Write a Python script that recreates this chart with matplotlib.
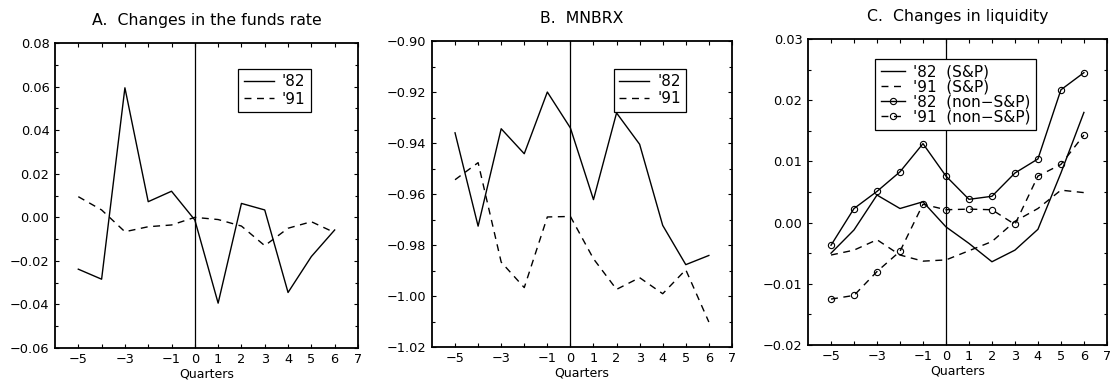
import matplotlib
matplotlib.use("Agg")
import matplotlib.pyplot as plt
from matplotlib.ticker import MultipleLocator, FixedLocator, FixedFormatter

# quarters around the event
quarters = [-5, -4, -3, -2, -1, 0, 1, 2, 3, 4, 5, 6]

# A. changes in the funds rate
funds_82 = [-0.0238, -0.0284, 0.0595, 0.0072, 0.0120, -0.0012, -0.0394, 0.0064, 0.0034, -0.0345, -0.0180, -0.0058]
funds_91 = [0.0095, 0.0034, -0.0066, -0.0043, -0.0035, 0.0000, -0.0010, -0.0040, -0.0130, -0.0050, -0.0020, -0.0070]

# B. MNBRX
mnbrx_82 = [-0.9360, -0.9726, -0.9344, -0.9442, -0.9200, -0.9341, -0.9622, -0.9282, -0.9405, -0.9723, -0.9877, -0.9841]
mnbrx_91 = [-0.9544, -0.9477, -0.9867, -0.9967, -0.9690, -0.9688, -0.9854, -0.9974, -0.9928, -0.9991, -0.9897, -1.0102]

# C. changes in liquidity
sp_82 = [-0.0050, -0.0012, 0.0045, 0.0023, 0.0034, -0.0007, -0.0034, -0.0064, -0.0045, -0.0011, 0.0081, 0.0180]
sp_91 = [-0.0053, -0.0045, -0.0028, -0.0053, -0.0063, -0.0061, -0.0046, -0.0031, 0.0002, 0.0023, 0.0053, 0.0049]
nonsp_82 = [-0.0037, 0.0023, 0.0051, 0.0083, 0.0129, 0.0076, 0.0038, 0.0043, 0.0081, 0.0104, 0.0217, 0.0245]
nonsp_91 = [-0.0125, -0.0119, -0.0080, -0.0047, 0.0030, 0.0021, 0.0022, 0.0021, -0.0003, 0.0076, 0.0095, 0.0143]

xtick_pos = [-5, -4, -3, -2, -1, 0, 1, 2, 3, 4, 5, 6, 7]
xtick_lab = ["−5", "", "−3", "", "−1", "0", "1", "2", "3", "4", "5", "6", "7"]

plt.rcParams["font.family"] = "DejaVu Sans"
plt.rcParams["font.size"] = 9

fig = plt.figure(figsize=(11.11, 3.82), dpi=100)
axA = fig.add_axes([0.0495, 0.089, 0.2727, 0.798])
axB = fig.add_axes([0.3888, 0.0916, 0.2700, 0.801])
axC = fig.add_axes([0.7273, 0.0969, 0.2690, 0.801])

dash = (0, (5, 4))


def style(ax, title, ylim, major, minor, fmt):
	ax.set_xlim(-6, 7)
	ax.set_ylim(*ylim)
	ax.xaxis.set_major_locator(FixedLocator(xtick_pos))
	ax.xaxis.set_major_formatter(FixedFormatter(xtick_lab))
	ax.yaxis.set_major_locator(MultipleLocator(major))
	ax.yaxis.set_minor_locator(MultipleLocator(minor))
	ax.yaxis.set_major_formatter(plt.FuncFormatter(lambda v, p: (fmt % v).replace("-", "−")))
	ax.tick_params(which="both", direction="in", top=True, right=True, length=3, width=0.8, labelsize=9.3)
	ax.tick_params(which="minor", length=2)
	ax.tick_params(axis="y", pad=4)
	ax.axvline(0, color="black", lw=0.9)
	for s in ax.spines.values():
		s.set_linewidth(1.3)
	ax.set_title(title, fontsize=11.3, pad=13)
	ax.set_xlabel("Quarters", fontsize=9, labelpad=1)


def legend(ax, anchor, hl, sp):
	leg = ax.legend(loc="upper left", bbox_to_anchor=anchor, frameon=True, fancybox=False,
					edgecolor="black", framealpha=1, handlelength=hl, handletextpad=0.5,
					borderpad=0.35, labelspacing=sp, fontsize=11)
	leg.get_frame().set_linewidth(0.9)


style(axA, "A.  Changes in the funds rate", (-0.06, 0.08), 0.02, 0.01, "%.2f")
axA.plot(quarters, funds_82, color="black", lw=1.0, label="'82")
axA.plot(quarters, funds_91, color="black", lw=1.0, ls=dash, label="'91")
legend(axA, (0.58, 0.94), 2.0, 0.15)

style(axB, "B.  MNBRX", (-1.02, -0.90), 0.02, 0.01, "%.2f")
axB.plot(quarters, mnbrx_82, color="black", lw=1.0, label="'82")
axB.plot(quarters, mnbrx_91, color="black", lw=1.0, ls=dash, label="'91")
legend(axB, (0.58, 0.935), 2.0, 0.15)

style(axC, "C.  Changes in liquidity", (-0.02, 0.03), 0.01, 0.005, "%.2f")
axC.plot(quarters, sp_82, color="black", lw=1.0, label="'82  (S&P)")
axC.plot(quarters, sp_91, color="black", lw=1.0, ls=dash, label="'91  (S&P)")
axC.plot(quarters, nonsp_82, color="black", lw=1.0, marker="o", ms=4.5, mfc="none", mew=0.8,
		 label="'82  (non−S&P)")
axC.plot(quarters, nonsp_91, color="black", lw=1.0, ls=dash, marker="o", ms=4.5, mfc="none", mew=0.8,
		 label="'91  (non−S&P)")
legend(axC, (0.20, 0.96), 1.6, 0.0)

fig.savefig("out.png", dpi=100)
